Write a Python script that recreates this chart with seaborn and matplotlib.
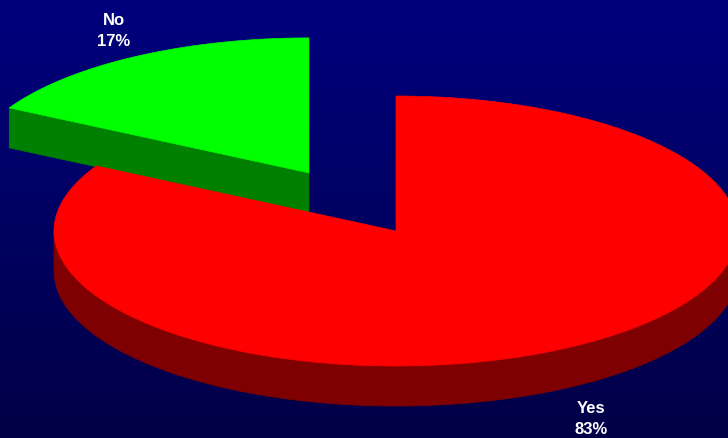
import numpy as np
import matplotlib
matplotlib.use("Agg")
import matplotlib.pyplot as plt
from matplotlib.patches import Polygon
from matplotlib.colors import LinearSegmentedColormap
import seaborn as sns

# Survey answers
labels = ["No", "Yes"]
values = [17, 83]
top_colors = ["#00ff00", "#ff0000"]
side_colors = ["#008000", "#7f0000"]
explode = [0.5, 0.0]

sns.set_theme(style="white")
plt.rcParams["font.family"] = ["Liberation Sans", "DejaVu Sans"]

W, H = 728, 439
fig = plt.figure(figsize=(W / 100, H / 100), dpi=100)
ax = fig.add_axes([0, 0, 1, 1])
ax.set_xlim(0, W)
ax.set_ylim(H, 0)
ax.axis("off")

# navy backdrop fading downward
bg = LinearSegmentedColormap.from_list("bg", ["#00007e", "#000046"])
ax.imshow(np.linspace(0, 1, 256).reshape(-1, 1), cmap=bg, aspect="auto",
          extent=(0, W, H, 0), zorder=0)

# projected pie geometry (pixels)
cx, cy = 396.0, 232.0
rx, ry = 342.0, 135.0
depth = 40.0
start = 90.0


def pt(x0, y0, t, dz=0.0):
    r = np.radians(t)
    return x0 + rx * np.cos(r), y0 - ry * np.sin(r) + dz


def arc(x0, y0, a1, a2, dz=0.0, n=200):
    t = np.linspace(a1, a2, n)
    r = np.radians(t)
    return np.column_stack([x0 + rx * np.cos(r), y0 - ry * np.sin(r) + dz])


fracs = np.array(values, dtype=float) / sum(values)
bounds = start + 360 * np.concatenate([[0], np.cumsum(fracs)])

slices = []
for i in range(len(values)):
    a1, a2 = bounds[i], bounds[i + 1]
    mid = np.radians((a1 + a2) / 2)
    x0 = cx + explode[i] * rx * np.cos(mid)
    y0 = cy - explode[i] * ry * np.sin(mid)
    slices.append((i, a1, a2, x0, y0))

# draw the big slice first, the exploded one over it
for i, a1, a2, x0, y0 in sorted(slices, key=lambda s: explode[s[0]]):
    # outer wall: only the front half (180..360 deg) faces the viewer
    for k in (-1, 0, 1):
        lo = max(a1, 180 + 360 * k)
        hi = min(a2, 360 + 360 * k)
        if hi > lo:
            top = arc(x0, y0, lo, hi)
            bot = arc(x0, y0, lo, hi, depth)[::-1]
            ax.add_patch(Polygon(np.vstack([top, bot]), closed=True,
                                 facecolor=side_colors[i], edgecolor=side_colors[i],
                                 lw=0.5, zorder=2))
    # radial cut faces
    for a, normal in ((a1, a1 - 90), (a2, a2 + 90)):
        if np.sin(np.radians(normal)) < -1e-6:
            ex, ey = pt(x0, y0, a)
            face = [(x0, y0), (ex, ey), (ex, ey + depth), (x0, y0 + depth)]
            ax.add_patch(Polygon(face, closed=True, facecolor=side_colors[i],
                                 edgecolor=side_colors[i], lw=0.5, zorder=2))
    # top surface
    top = np.vstack([[x0, y0], arc(x0, y0, a1, a2), [x0, y0]])
    ax.add_patch(Polygon(top, closed=True, facecolor=top_colors[i],
                         edgecolor=top_colors[i], lw=0.5, zorder=3))

    # category and percentage label outside the slice
    mid = np.radians((a1 + a2) / 2)
    lx = x0 + 1.12 * rx * np.cos(mid)
    ly = y0 - 1.25 * ry * np.sin(mid) + 2
    if np.sin(mid) < 0:
        ly += depth
    ax.text(lx, ly, f"{labels[i]}\n{values[i]}%", color="white",
            fontsize=12, fontweight="bold", ha="center", va="center",
            linespacing=1.5, zorder=5)

fig.savefig("out.png", dpi=100, facecolor="#000060")
